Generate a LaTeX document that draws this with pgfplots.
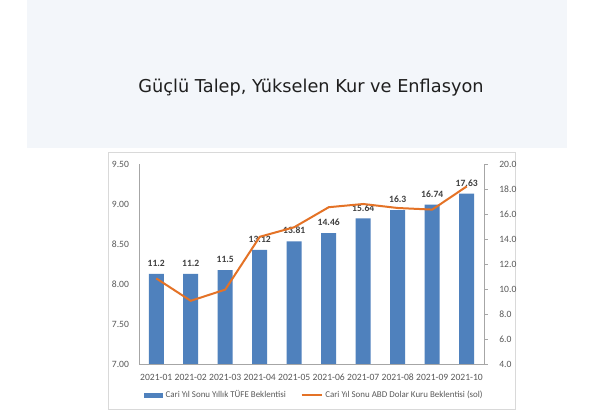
\documentclass[border=0pt]{standalone}
\usepackage{fontspec}
\setmainfont{Carlito}
\newfontfamily\titlefont{DejaVu Sans}
\usepackage{pgfplots}
\pgfplotsset{compat=1.18}
\definecolor{barblue}{RGB}{79,129,189}
\definecolor{lineorange}{RGB}{228,114,38}
\definecolor{titlebg}{RGB}{243,246,250}
\definecolor{framegray}{RGB}{217,217,217}
\definecolor{axisgray}{RGB}{166,166,166}
\definecolor{ticktext}{RGB}{89,89,89}
\begin{document}
\begin{tikzpicture}
\fill[white] (0,0) rectangle (460.5pt,310.5pt);
\useasboundingbox (0,0) rectangle (460.5pt,310.5pt);
\fill[titlebg] (20.25pt,199.5pt) rectangle (425.25pt,310.5pt);
\node[font=\titlefont\fontsize{13.3}{16}\selectfont, text=black!88] at (233.25pt,244.5pt) {Güçlü Talep, Yükselen Kur ve Enflasyon};
\draw[framegray] (81pt,3.75pt) rectangle (386.25pt,196.5pt);

\begin{axis}[
  at={(104.25pt,37.5pt)}, anchor=south west,
  scale only axis, width=258.75pt, height=150pt,
  xmin=-0.5, xmax=9.5, ymin=4, ymax=20,
  axis y line*=right, axis x line*=bottom,
  axis line style={axisgray},
  xtick={0,...,9},
  xticklabels={2021-01,2021-02,2021-03,2021-04,2021-05,2021-06,2021-07,2021-08,2021-09,2021-10},
  x tick style={draw=none},
  xticklabel style={text height=5.5pt, text depth=1pt},
  ytick={4,6,...,20},
  y tick style={axisgray},
  tick align=outside, major tick length=3pt,
  tick label style={font=\fontsize{7.2}{9}\selectfont, text=ticktext},
  yticklabel style={xshift=5pt},
  /pgf/number format/assume math mode=true,
  y tick label style={/pgf/number format/.cd, fixed, fixed zerofill, precision=1},
  ybar, bar width=11.25pt,
  nodes near coords, point meta=explicit symbolic,
  nodes near coords style={font=\bfseries\fontsize{7.2}{8}\selectfont, text=black!75, yshift=2pt},
]
\addplot[fill=barblue, draw=none] coordinates {
  (0,11.2) [11.2] (1,11.2) [11.2] (2,11.5) [11.5] (3,13.12) [13.12] (4,13.81) [13.81]
  (5,14.46) [14.46] (6,15.64) [15.64] (7,16.3) [16.3] (8,16.74) [16.74] (9,17.63) [17.63]};
\end{axis}

\begin{axis}[
  at={(104.25pt,37.5pt)}, anchor=south west,
  scale only axis, width=258.75pt, height=150pt,
  xmin=-0.5, xmax=9.5, ymin=7, ymax=9.5,
  axis y line*=left, axis x line=none,
  axis line style={axisgray},
  ytick={7,7.5,...,9.5},
  major tick length=0pt,
  tick label style={font=\fontsize{7.2}{9}\selectfont, text=ticktext},
  yticklabel style={xshift=-4pt},
  /pgf/number format/assume math mode=true,
  y tick label style={/pgf/number format/.cd, fixed, fixed zerofill, precision=2},
  legend style={at={(0.51,-0.155)}, anchor=center, draw=none, fill=none,
    legend columns=2, font=\fontsize{6.7}{8}\selectfont, text=ticktext,
    /tikz/every even column/.append style={column sep=9pt}},
]
\addlegendimage{legend image code/.code={\fill[barblue] (0pt,-1.6pt) rectangle (13.5pt,1.6pt);}}
\addlegendentry{Cari Yıl Sonu Yıllık TÜFE Beklentisi}
\addplot[lineorange, line width=1.5pt, mark=none,
  legend image code/.code={\draw[lineorange, line width=1.5pt] (0pt,0pt) -- (15pt,0pt);}] coordinates {
  (0,8.07) (1,7.79) (2,7.93) (3,8.59) (4,8.71) (5,8.96) (6,9.00) (7,8.95) (8,8.93) (9,9.22)};
\addlegendentry{Cari Yıl Sonu ABD Dolar Kuru Beklentisi (sol)}
\end{axis}
\end{tikzpicture}
\end{document}
